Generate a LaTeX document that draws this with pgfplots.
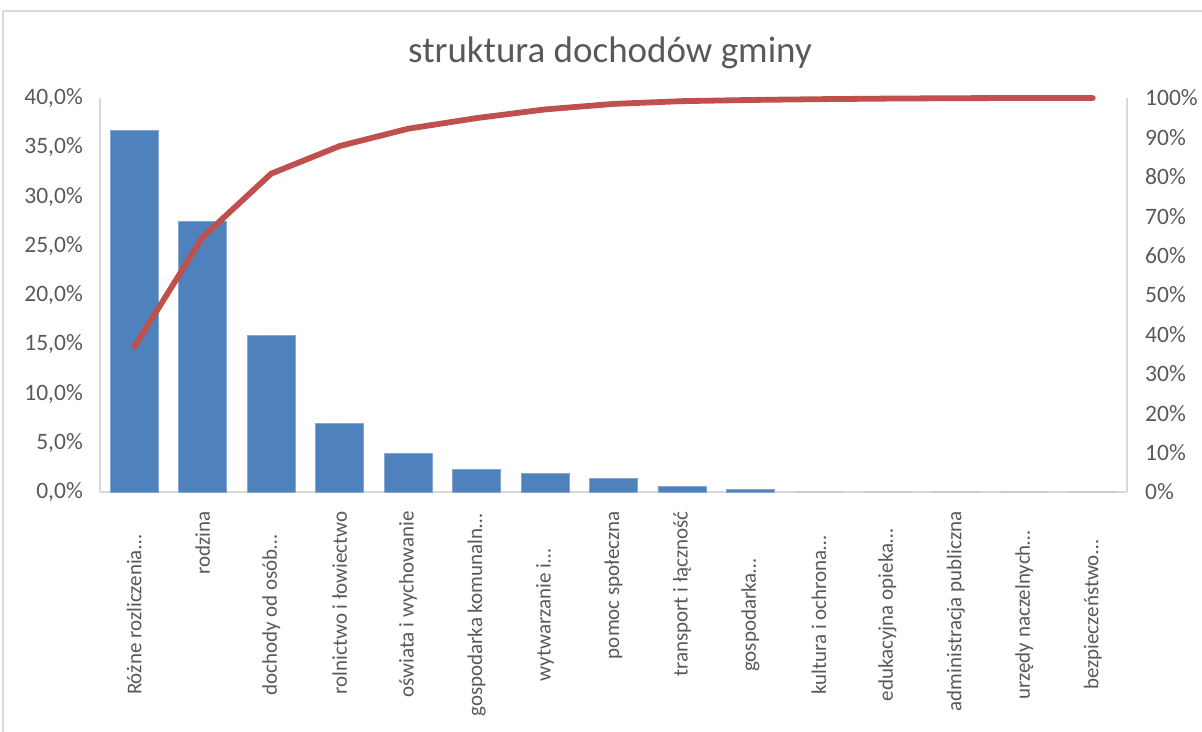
\documentclass[border=0pt]{standalone}
\usepackage{pgfplots}
\pgfplotsset{compat=1.18}
\usetikzlibrary{calc}
\usepackage{fontspec}
\setmainfont{Carlito}
\definecolor{barblue}{HTML}{4F81BD}
\definecolor{linered}{HTML}{C0504D}
\definecolor{txt}{HTML}{595959}
\definecolor{axgrey}{HTML}{D9D9D9}
\newcommand\tl[1]{\makebox[208pt][r]{#1}}
\newcommand\tc[1]{\makebox[208pt][c]{#1}}
\begin{document}
\begin{tikzpicture}
\begin{axis}[
  name=ax1,
  at={(0pt,0pt)}, anchor=south west,
  width=1027pt, height=394pt, scale only axis,
  xmin=-0.5, xmax=14.5, ymin=0, ymax=40,
  axis x line*=bottom, axis y line*=left,
  axis line style={draw=axgrey, line width=1.2pt, -},
  major tick length=0pt,
  xtick={0,...,14},
  xticklabels={\tc{Różne rozliczenia…}, \tl{rodzina}, \tc{dochody od osób…}, \tl{rolnictwo i łowiectwo}, \tl{oświata i wychowanie}, \tc{gospodarka komunaln…}, \tc{wytwarzanie i…}, \tl{pomoc społeczna}, \tl{transport i łączność}, \tc{gospodarka…}, \tc{kultura i ochrona…}, \tc{edukacyjna opieka…}, \tl{administracja publiczna}, \tc{urzędy naczelnych…}, \tc{bezpieczeństwo…}},
  xticklabel style={font=\fontsize{21}{23}\selectfont, text=txt, inner sep=0pt, yshift=-19pt, rotate=90, anchor=east},
  ytick={0,5,...,40},
  yticklabels={{0,0\%},{5,0\%},{10,0\%},{15,0\%},{20,0\%},{25,0\%},{30,0\%},{35,0\%},{40,0\%}},
  yticklabel style={font=\fontsize{23.5}{25}\selectfont, text=txt, inner sep=0pt, anchor=east, xshift=-17pt},
  clip=false,
]
\addplot[ybar, bar width=48pt, bar shift=0pt, fill=barblue, draw=barblue!70!white, line width=0.8pt] coordinates {
(0,36.7) (1,27.5) (2,15.9) (3,7.0) (4,3.95) (5,2.33) (6,1.9) (7,1.4) (8,0.6) (9,0.3)};
\addplot[ybar, bar width=48pt, bar shift=0pt, fill=barblue, draw=none] coordinates {
(10,0.02) (11,0.015) (12,0.01) (13,0.01) (14,0.005)};
\end{axis}
\begin{axis}[
  at={(ax1.south west)}, anchor=south west,
  width=1027pt, height=394pt, scale only axis,
  xmin=-0.5, xmax=14.5, ymin=0, ymax=100,
  axis x line=none, axis y line*=right,
  axis line style={draw=axgrey, line width=1.2pt, -},
  major tick length=0pt,
  ytick={0,10,...,100},
  yticklabels={0\%,10\%,20\%,30\%,40\%,50\%,60\%,70\%,80\%,90\%,100\%},
  yticklabel style={font=\fontsize{23.5}{25}\selectfont, text=txt, inner sep=0pt, anchor=west, xshift=18pt},
  clip=false,
]
\addplot[linered, line width=5.8pt, line cap=round, line join=round, no marks] coordinates {
(0,36.8) (1,64.7) (2,80.8) (3,87.8) (4,92.2) (5,94.9) (6,97.1) (7,98.5) (8,99.2) (9,99.5) (10,99.7) (11,99.85) (12,99.95) (13,100) (14,100)};
\end{axis}
\node[anchor=base, text=txt, font=\fontsize{37}{40}\selectfont] at ($(ax1.south west)+(510pt,429pt)$) {struktura dochodów gminy};
\draw[axgrey, line width=1.2pt] ($(ax1.south west)+(-97pt,-250pt)$) -- ($(ax1.south west)+(-97pt,481pt)$) -- ($(ax1.south west)+(1110pt,481pt)$);
\pgfresetboundingbox
\path[use as bounding box] ($(ax1.south west)+(-100pt,-239pt)$) rectangle ($(ax1.south west)+(1102pt,492pt)$);
\end{tikzpicture}
\end{document}
